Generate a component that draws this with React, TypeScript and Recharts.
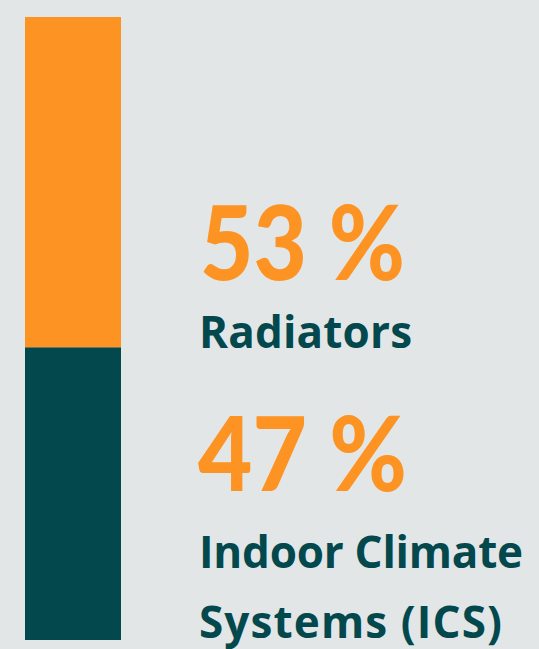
import React from "react";
import { BarChart, Bar, XAxis, YAxis, Customized } from "recharts";

const categories = ["Heating"];
const radiators = [53];
const ics = [47];
const percentLabels = ["53 %", "47 %"];
const nameLabels = [["Radiators"], ["Indoor Climate", "Systems (ICS)"]];

const data = categories.map((c, i) => ({ name: c, radiators: radiators[i], ics: ics[i] }));

const ORANGE = "#fd9322";
const TEAL = "#02484d";
const BG = "#e2e6e7";

const Texts = () => (
  <g>
    <g fontFamily="Lato, sans-serif" fontWeight={900}>
      <text x={200} y={280} fontSize={102} fill={ORANGE} textLength={205} lengthAdjust="spacingAndGlyphs">{percentLabels[0]}</text>
      <text x={198} y={491} fontSize={102} fill={ORANGE} textLength={209} lengthAdjust="spacingAndGlyphs">{percentLabels[1]}</text>
    </g>
    <g fontFamily="'Open Sans', sans-serif" fontWeight={700}>
      <text x={199} y={348} fontSize={44} fill={TEAL} textLength={213}>{nameLabels[0][0]}</text>
      <text x={199} y={568} fontSize={44} fill={TEAL} textLength={324}>{nameLabels[1][0]}</text>
      <text x={199} y={638} fontSize={44} fill={TEAL} textLength={303}>{nameLabels[1][1]}</text>
    </g>
  </g>
);

export default function App() {
  return (
    <div style={{ position: "absolute", left: 0, top: 0, width: 539, height: 649, background: BG }}>
      <BarChart
        width={539}
        height={649}
        data={data}
        margin={{ top: 17, right: 418, bottom: 9, left: 25 }}
        barCategoryGap={0}
      >
        <XAxis dataKey="name" hide />
        <YAxis hide domain={[0, 100]} />
        <Bar dataKey="ics" stackId="a" fill={TEAL} isAnimationActive={false} />
        <Bar dataKey="radiators" stackId="a" fill={ORANGE} isAnimationActive={false} />
        <Customized component={Texts} />
      </BarChart>
    </div>
  );
}
